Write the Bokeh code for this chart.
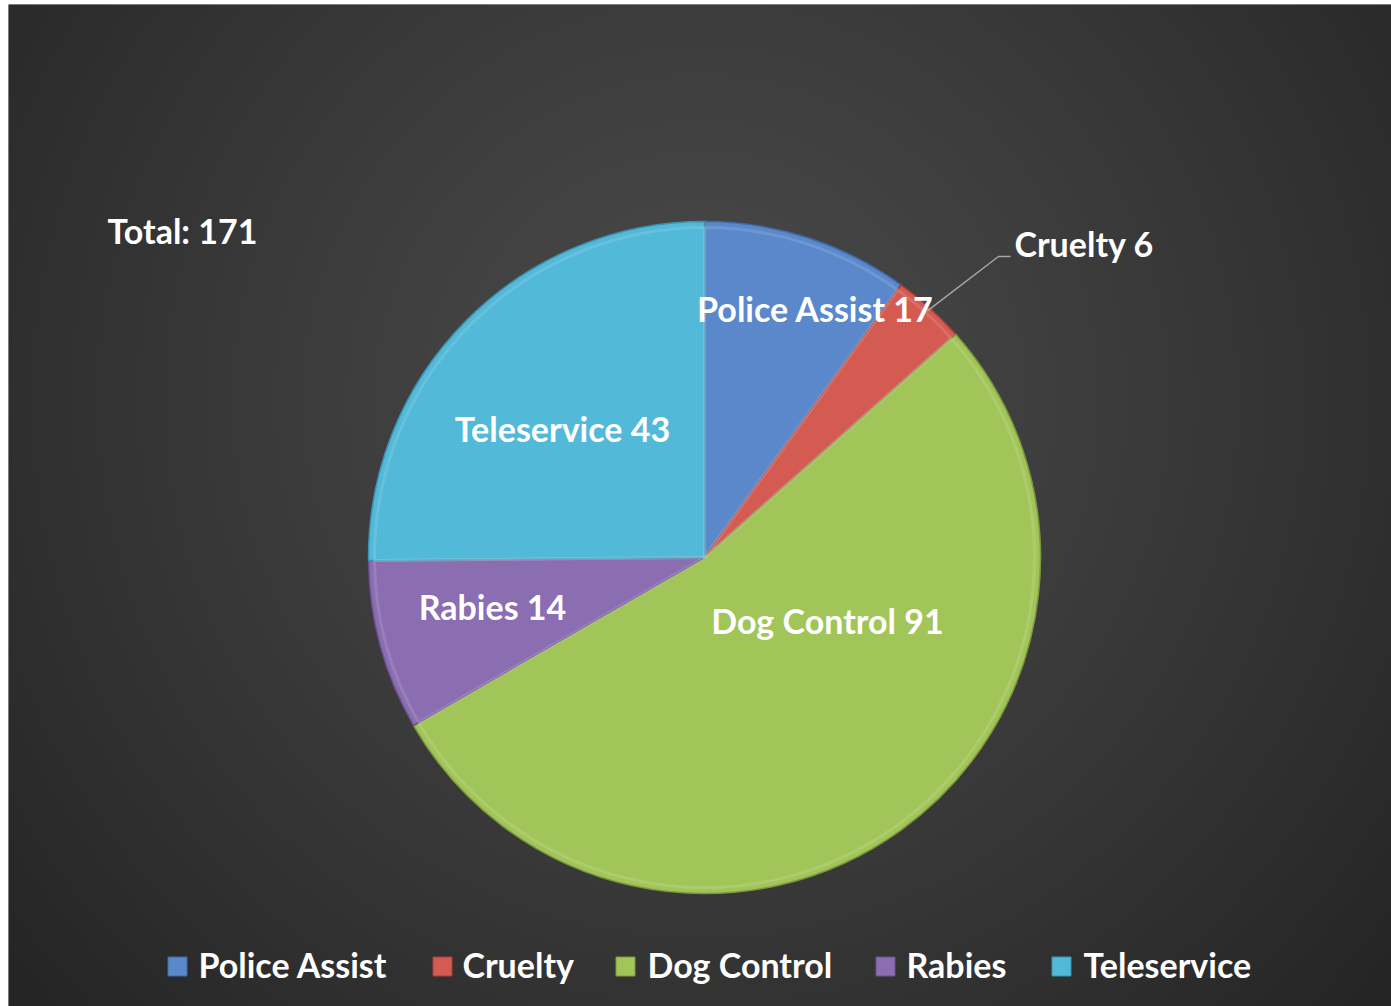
import numpy as np
from bokeh.plotting import figure
from bokeh.models import Range1d
from bokeh.core.properties import value
from bokeh.embed import file_html
from bokeh.resources import INLINE

# ---- data ----
categories = ["Police Assist", "Cruelty", "Dog Control", "Rabies", "Teleservice"]
counts = [17, 6, 91, 14, 43]
total_label = "Total"

# ---- style ----
fills = ["#5b88cb", "#d45b52", "#a2c55a", "#8b6db2", "#52b9d8"]
edges = ["#3f6aa6", "#a83f38", "#7c9a3c", "#6a5090", "#3a94b3"]
FONT = "Lato"
FS = "34px"

W, H = 1391, 1006
LEFT, TOP = 8, 4

def py(y):  # pixel y -> data y
    return H - y

p = figure(width=W, height=H, output_backend="svg", toolbar_location=None,
           x_range=Range1d(LEFT, W), y_range=Range1d(0, H - TOP),
           min_border_left=LEFT, min_border_top=TOP, min_border_right=0, min_border_bottom=0)
p.axis.visible = False
p.grid.visible = False
p.outline_line_color = None
p.border_fill_color = "white"
p.background_fill_color = "#333333"

# background radial gradient
pw, ph = W - LEFT, H - TOP
xs = np.arange(pw) + LEFT
ys = np.arange(ph)
X, Y = np.meshgrid(xs, ys)
cx, cy = 700, py(400)
d = np.sqrt((X - cx) ** 2 + (Y - cy) ** 2) / 900.0
d = np.clip(d, 0, 1)
c0, c1 = 0x4a, 0x25
g = (c0 + (c1 - c0) * d ** 1.2).astype(np.uint32)
img = (255 << 24) | (g << 16) | (g << 8) | g
p.image_rgba(image=[img.view(np.uint32)], x=LEFT, y=0, dw=pw, dh=ph)

# pie
pcx, pcy, R = 704, py(557), 336
tot = sum(counts)
fr = np.cumsum([0] + counts) / tot
start = np.pi / 2 - fr[:-1] * 2 * np.pi
end = np.pi / 2 - fr[1:] * 2 * np.pi
p.wedge(x=pcx, y=pcy, radius=R, start_angle=list(start), end_angle=list(end),
        direction="clock", fill_color=fills, line_color=edges, line_width=1.5)

# subtle highlight rim
p.wedge(x=pcx, y=pcy, radius=R - 6, start_angle=list(start), end_angle=list(end),
        direction="clock", fill_color=None, line_color="white", line_alpha=0.12, line_width=3)

# labels
labels = [f"{c} {v}" for c, v in zip(categories, counts)]
lab_pos = [(815, 308, "center"), (1014, 243, "left"), (827, 620, "center"),
           (492, 606, "center"), (562, 428, "center")]
for txt, (lx, ly, al) in zip(labels, lab_pos):
    p.text(x=[lx], y=[py(ly)], text=[txt], text_color="white", text_font=value(FONT),
           text_font_style="bold", text_font_size=FS, text_align=al,
           text_baseline="middle")

# leader line for Cruelty
mid = (start[1] + end[1]) / 2
r0 = R - 4
x0, y0 = pcx + r0 * np.cos(mid), pcy + r0 * np.sin(mid)
p.line(x=[x0, 998, 1010], y=[y0, py(256), py(256)], line_color="#a6a6a6", line_width=1.5)

# total
p.text(x=[107], y=[py(230)], text=[f"{total_label}: {tot}"], text_color="white",
       text_font=value(FONT), text_font_style="bold", text_font_size=FS,
       text_align="left", text_baseline="middle")

# legend
sq_x = [177, 442, 625, 885, 1061]
tx_x = [198, 462, 647, 906, 1083]
ly = py(966)
p.rect(x=sq_x, y=[ly] * 5, width=19, height=19, fill_color=fills, line_color=edges, line_width=1)
p.text(x=tx_x, y=[py(964)] * 5, text=categories, text_color="white", text_font=value(FONT),
       text_font_style="bold", text_font_size=FS, text_align="left", text_baseline="middle")

open("out.html", "w").write(file_html(p, INLINE))
